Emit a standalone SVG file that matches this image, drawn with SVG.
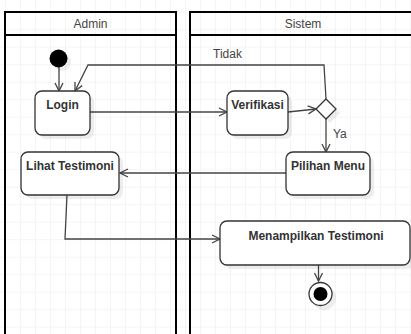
<svg xmlns="http://www.w3.org/2000/svg" width="411" height="334" viewBox="0 0 411 334">
<style>
.lane{fill:none;stroke:#000;stroke-width:2}
.lt{font-family:"Liberation Sans",Arial,sans-serif;font-size:12px;fill:#444;text-anchor:middle}
.node{fill:#fff;stroke:#333;stroke-width:1.3}
.sh{fill:#000;fill-opacity:0.07;stroke:none}
.nt{font-family:"Liberation Sans",Arial,sans-serif;font-size:12px;font-weight:bold;fill:#333;text-anchor:middle}
.edge{fill:none;stroke:#444;stroke-width:1.3}
.el{font-family:"Liberation Sans",Arial,sans-serif;font-size:12px;fill:#444}
</style>
<defs>
<pattern id="grid" patternUnits="userSpaceOnUse" x="5" y="11.7" width="15" height="17.5">
<path d="M0,0 H15 M0,0 V17.5" fill="none" stroke="#ececec" stroke-width="1"/>
</pattern>
<marker id="arr" markerUnits="userSpaceOnUse" markerWidth="12" markerHeight="12" refX="9" refY="5" orient="auto">
<path d="M1,1 L9,5 L1,9" fill="none" stroke="#444" stroke-width="1.3"/>
</marker>
</defs>
<rect width="411" height="334" fill="#fff"/>
<rect width="411" height="334" fill="url(#grid)"/>
<g id="lane-admin">
<rect class="lane" x="5" y="12" width="171" height="330"/>
<line class="lane" x1="5" y1="35" x2="176" y2="35"/>
<text class="lt" x="90.5" y="27.5">Admin</text>
</g>
<g id="lane-sistem">
<rect class="lane" x="190" y="12" width="230" height="330"/>
<line class="lane" x1="190" y1="35" x2="420" y2="35"/>
<text class="lt" x="303" y="27.5">Sistem</text>
</g>
<g id="connectors">
<line class="edge" x1="59" y1="67" x2="59" y2="91" marker-end="url(#arr)"/>
<polyline class="edge" points="326,99 324,65 88,65 75,91" marker-end="url(#arr)"/>
<line class="edge" x1="90" y1="112" x2="227" y2="112" marker-end="url(#arr)"/>
<line class="edge" x1="288" y1="112" x2="316" y2="109" marker-end="url(#arr)"/>
<line class="edge" x1="326" y1="119" x2="326" y2="152" marker-end="url(#arr)"/>
<line class="edge" x1="286" y1="173" x2="120" y2="173" marker-end="url(#arr)"/>
<polyline class="edge" points="67,195 65,239 220,239" marker-end="url(#arr)"/>
<line class="edge" x1="318.5" y1="265" x2="318.5" y2="281" marker-end="url(#arr)"/>
<text class="el" x="213" y="58">Tidak</text>
<text class="el" x="333" y="137.5">Ya</text>
</g>
<g id="start">
<circle class="sh" cx="62" cy="62" r="9"/>
<circle cx="58.5" cy="58.5" r="9" fill="#000"/>
</g>
<g id="login">
<rect class="sh" x="39" y="95" width="55" height="44" rx="7"/>
<rect class="node" x="35" y="91" width="55" height="44" rx="7"/>
<text class="nt" x="62.5" y="109">Login</text>
</g>
<g id="verifikasi">
<rect class="sh" x="231" y="95" width="61" height="44" rx="7"/>
<rect class="node" x="227" y="91" width="61" height="44" rx="7"/>
<text class="nt" x="257.5" y="109">Verifikasi</text>
</g>
<g id="decision">
<polygon class="sh" points="330,103 340,113 330,123 320,113"/>
<polygon class="node" points="326,99 336,109 326,119 316,109"/>
</g>
<g id="pilihan-menu">
<rect class="sh" x="290" y="156" width="84" height="43" rx="7"/>
<rect class="node" x="286" y="152" width="84" height="43" rx="7"/>
<text class="nt" x="328" y="170">Pilihan Menu</text>
</g>
<g id="lihat-testimoni">
<rect class="sh" x="25" y="156" width="98" height="43" rx="7"/>
<rect class="node" x="21" y="152" width="98" height="43" rx="7"/>
<text class="nt" x="70" y="170">Lihat Testimoni</text>
</g>
<g id="menampilkan-testimoni">
<rect class="sh" x="224" y="225" width="190" height="44" rx="7"/>
<rect class="node" x="220" y="221" width="190" height="44" rx="7"/>
<text class="nt" x="316" y="240">Menampilkan Testimoni</text>
</g>
<g id="end">
<circle class="sh" cx="324" cy="298" r="12"/>
<circle cx="320.5" cy="294" r="11.5" fill="#fff" stroke="#333" stroke-width="1.3"/>
<circle cx="320.5" cy="294" r="7" fill="#000"/>
</g>
</svg>
